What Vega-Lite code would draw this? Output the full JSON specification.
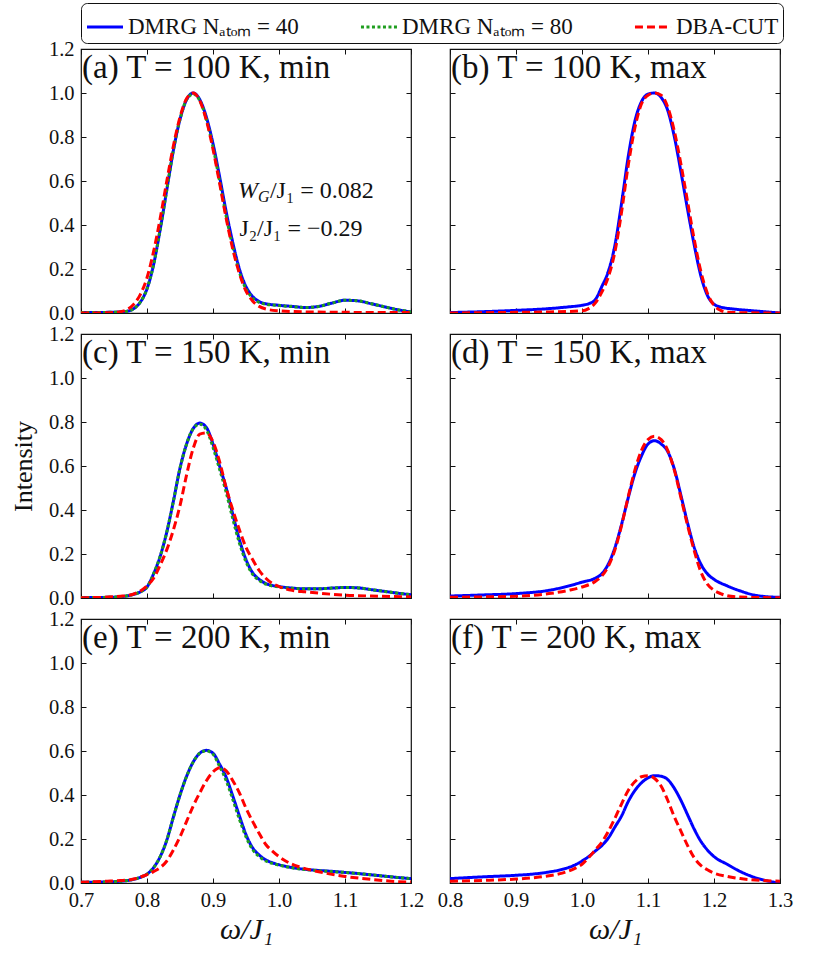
{
  "$schema": "https://vega.github.io/schema/vega-lite/v6.json",
  "background": "white",
  "padding": {"left": 9, "top": 2, "right": 5, "bottom": 5},
  "datasets": {
    "curves": [
      {"p":"a","s":"D40","x":0.70,"y":0.002},{"p":"a","s":"D40","x":0.72,"y":0.002},{"p":"a","s":"D40","x":0.74,"y":0.003},{"p":"a","s":"D40","x":0.76,"y":0.005},{"p":"a","s":"D40","x":0.77,"y":0.008},{"p":"a","s":"D40","x":0.78,"y":0.02},{"p":"a","s":"D40","x":0.79,"y":0.05},{"p":"a","s":"D40","x":0.80,"y":0.11},{"p":"a","s":"D40","x":0.81,"y":0.22},{"p":"a","s":"D40","x":0.82,"y":0.38},{"p":"a","s":"D40","x":0.83,"y":0.56},{"p":"a","s":"D40","x":0.84,"y":0.74},{"p":"a","s":"D40","x":0.85,"y":0.88},{"p":"a","s":"D40","x":0.86,"y":0.97},{"p":"a","s":"D40","x":0.87,"y":1.0},{"p":"a","s":"D40","x":0.88,"y":0.97},{"p":"a","s":"D40","x":0.89,"y":0.89},{"p":"a","s":"D40","x":0.90,"y":0.77},{"p":"a","s":"D40","x":0.91,"y":0.62},{"p":"a","s":"D40","x":0.92,"y":0.46},{"p":"a","s":"D40","x":0.93,"y":0.32},{"p":"a","s":"D40","x":0.94,"y":0.2},{"p":"a","s":"D40","x":0.95,"y":0.12},{"p":"a","s":"D40","x":0.96,"y":0.075},{"p":"a","s":"D40","x":0.97,"y":0.052},{"p":"a","s":"D40","x":0.98,"y":0.042},{"p":"a","s":"D40","x":1.00,"y":0.035},{"p":"a","s":"D40","x":1.02,"y":0.03},{"p":"a","s":"D40","x":1.04,"y":0.025},{"p":"a","s":"D40","x":1.06,"y":0.03},{"p":"a","s":"D40","x":1.08,"y":0.045},{"p":"a","s":"D40","x":1.10,"y":0.058},{"p":"a","s":"D40","x":1.12,"y":0.055},{"p":"a","s":"D40","x":1.14,"y":0.042},{"p":"a","s":"D40","x":1.16,"y":0.028},{"p":"a","s":"D40","x":1.18,"y":0.015},{"p":"a","s":"D40","x":1.20,"y":0.005},
      {"p":"a","s":"D80","x":0.70,"y":0.002},{"p":"a","s":"D80","x":0.72,"y":0.002},{"p":"a","s":"D80","x":0.74,"y":0.003},{"p":"a","s":"D80","x":0.76,"y":0.005},{"p":"a","s":"D80","x":0.77,"y":0.008},{"p":"a","s":"D80","x":0.78,"y":0.02},{"p":"a","s":"D80","x":0.79,"y":0.05},{"p":"a","s":"D80","x":0.80,"y":0.11},{"p":"a","s":"D80","x":0.81,"y":0.22},{"p":"a","s":"D80","x":0.82,"y":0.38},{"p":"a","s":"D80","x":0.83,"y":0.56},{"p":"a","s":"D80","x":0.84,"y":0.74},{"p":"a","s":"D80","x":0.85,"y":0.88},{"p":"a","s":"D80","x":0.86,"y":0.97},{"p":"a","s":"D80","x":0.87,"y":0.995},{"p":"a","s":"D80","x":0.88,"y":0.965},{"p":"a","s":"D80","x":0.89,"y":0.88},{"p":"a","s":"D80","x":0.90,"y":0.755},{"p":"a","s":"D80","x":0.91,"y":0.6},{"p":"a","s":"D80","x":0.92,"y":0.44},{"p":"a","s":"D80","x":0.93,"y":0.3},{"p":"a","s":"D80","x":0.94,"y":0.185},{"p":"a","s":"D80","x":0.95,"y":0.11},{"p":"a","s":"D80","x":0.96,"y":0.068},{"p":"a","s":"D80","x":0.97,"y":0.048},{"p":"a","s":"D80","x":0.98,"y":0.04},{"p":"a","s":"D80","x":1.00,"y":0.034},{"p":"a","s":"D80","x":1.02,"y":0.029},{"p":"a","s":"D80","x":1.04,"y":0.025},{"p":"a","s":"D80","x":1.06,"y":0.03},{"p":"a","s":"D80","x":1.08,"y":0.045},{"p":"a","s":"D80","x":1.10,"y":0.058},{"p":"a","s":"D80","x":1.12,"y":0.055},{"p":"a","s":"D80","x":1.14,"y":0.042},{"p":"a","s":"D80","x":1.16,"y":0.028},{"p":"a","s":"D80","x":1.18,"y":0.015},{"p":"a","s":"D80","x":1.20,"y":0.005},
      {"p":"a","s":"CUT","x":0.70,"y":0.0},{"p":"a","s":"CUT","x":0.72,"y":0.0},{"p":"a","s":"CUT","x":0.74,"y":0.001},{"p":"a","s":"CUT","x":0.75,"y":0.003},{"p":"a","s":"CUT","x":0.76,"y":0.006},{"p":"a","s":"CUT","x":0.77,"y":0.016},{"p":"a","s":"CUT","x":0.78,"y":0.04},{"p":"a","s":"CUT","x":0.79,"y":0.085},{"p":"a","s":"CUT","x":0.80,"y":0.16},{"p":"a","s":"CUT","x":0.81,"y":0.28},{"p":"a","s":"CUT","x":0.82,"y":0.43},{"p":"a","s":"CUT","x":0.83,"y":0.6},{"p":"a","s":"CUT","x":0.84,"y":0.76},{"p":"a","s":"CUT","x":0.85,"y":0.89},{"p":"a","s":"CUT","x":0.86,"y":0.975},{"p":"a","s":"CUT","x":0.87,"y":1.0},{"p":"a","s":"CUT","x":0.88,"y":0.965},{"p":"a","s":"CUT","x":0.89,"y":0.875},{"p":"a","s":"CUT","x":0.90,"y":0.745},{"p":"a","s":"CUT","x":0.91,"y":0.59},{"p":"a","s":"CUT","x":0.92,"y":0.43},{"p":"a","s":"CUT","x":0.93,"y":0.29},{"p":"a","s":"CUT","x":0.94,"y":0.18},{"p":"a","s":"CUT","x":0.95,"y":0.1},{"p":"a","s":"CUT","x":0.96,"y":0.055},{"p":"a","s":"CUT","x":0.97,"y":0.03},{"p":"a","s":"CUT","x":0.98,"y":0.018},{"p":"a","s":"CUT","x":1.00,"y":0.01},{"p":"a","s":"CUT","x":1.04,"y":0.005},{"p":"a","s":"CUT","x":1.10,"y":0.003},{"p":"a","s":"CUT","x":1.20,"y":0.002},
      {"p":"b","s":"D40","x":0.80,"y":0.002},{"p":"b","s":"D40","x":0.85,"y":0.006},{"p":"b","s":"D40","x":0.90,"y":0.012},{"p":"b","s":"D40","x":0.95,"y":0.02},{"p":"b","s":"D40","x":0.98,"y":0.028},{"p":"b","s":"D40","x":1.00,"y":0.035},{"p":"b","s":"D40","x":1.01,"y":0.042},{"p":"b","s":"D40","x":1.02,"y":0.06},{"p":"b","s":"D40","x":1.03,"y":0.12},{"p":"b","s":"D40","x":1.04,"y":0.19},{"p":"b","s":"D40","x":1.05,"y":0.31},{"p":"b","s":"D40","x":1.06,"y":0.5},{"p":"b","s":"D40","x":1.07,"y":0.71},{"p":"b","s":"D40","x":1.08,"y":0.87},{"p":"b","s":"D40","x":1.09,"y":0.96},{"p":"b","s":"D40","x":1.10,"y":0.995},{"p":"b","s":"D40","x":1.11,"y":1.0},{"p":"b","s":"D40","x":1.12,"y":0.98},{"p":"b","s":"D40","x":1.13,"y":0.92},{"p":"b","s":"D40","x":1.14,"y":0.8},{"p":"b","s":"D40","x":1.15,"y":0.64},{"p":"b","s":"D40","x":1.16,"y":0.47},{"p":"b","s":"D40","x":1.17,"y":0.31},{"p":"b","s":"D40","x":1.18,"y":0.17},{"p":"b","s":"D40","x":1.19,"y":0.08},{"p":"b","s":"D40","x":1.20,"y":0.04},{"p":"b","s":"D40","x":1.21,"y":0.027},{"p":"b","s":"D40","x":1.23,"y":0.018},{"p":"b","s":"D40","x":1.26,"y":0.01},{"p":"b","s":"D40","x":1.30,"y":0.0},
      {"p":"b","s":"CUT","x":0.80,"y":0.0},{"p":"b","s":"CUT","x":0.90,"y":0.003},{"p":"b","s":"CUT","x":0.95,"y":0.005},{"p":"b","s":"CUT","x":1.00,"y":0.01},{"p":"b","s":"CUT","x":1.01,"y":0.02},{"p":"b","s":"CUT","x":1.02,"y":0.045},{"p":"b","s":"CUT","x":1.03,"y":0.095},{"p":"b","s":"CUT","x":1.04,"y":0.165},{"p":"b","s":"CUT","x":1.05,"y":0.28},{"p":"b","s":"CUT","x":1.06,"y":0.46},{"p":"b","s":"CUT","x":1.07,"y":0.67},{"p":"b","s":"CUT","x":1.08,"y":0.84},{"p":"b","s":"CUT","x":1.09,"y":0.95},{"p":"b","s":"CUT","x":1.10,"y":0.99},{"p":"b","s":"CUT","x":1.11,"y":1.0},{"p":"b","s":"CUT","x":1.12,"y":0.99},{"p":"b","s":"CUT","x":1.13,"y":0.935},{"p":"b","s":"CUT","x":1.14,"y":0.825},{"p":"b","s":"CUT","x":1.15,"y":0.675},{"p":"b","s":"CUT","x":1.16,"y":0.505},{"p":"b","s":"CUT","x":1.17,"y":0.335},{"p":"b","s":"CUT","x":1.18,"y":0.19},{"p":"b","s":"CUT","x":1.19,"y":0.09},{"p":"b","s":"CUT","x":1.20,"y":0.035},{"p":"b","s":"CUT","x":1.21,"y":0.012},{"p":"b","s":"CUT","x":1.22,"y":0.004},{"p":"b","s":"CUT","x":1.25,"y":0.001},{"p":"b","s":"CUT","x":1.30,"y":0.0},
      {"p":"c","s":"D40","x":0.70,"y":0.002},{"p":"c","s":"D40","x":0.74,"y":0.003},{"p":"c","s":"D40","x":0.76,"y":0.006},{"p":"c","s":"D40","x":0.77,"y":0.01},{"p":"c","s":"D40","x":0.78,"y":0.017},{"p":"c","s":"D40","x":0.79,"y":0.028},{"p":"c","s":"D40","x":0.80,"y":0.05},{"p":"c","s":"D40","x":0.81,"y":0.11},{"p":"c","s":"D40","x":0.82,"y":0.19},{"p":"c","s":"D40","x":0.83,"y":0.3},{"p":"c","s":"D40","x":0.84,"y":0.44},{"p":"c","s":"D40","x":0.85,"y":0.59},{"p":"c","s":"D40","x":0.86,"y":0.7},{"p":"c","s":"D40","x":0.87,"y":0.77},{"p":"c","s":"D40","x":0.88,"y":0.795},{"p":"c","s":"D40","x":0.89,"y":0.775},{"p":"c","s":"D40","x":0.90,"y":0.7},{"p":"c","s":"D40","x":0.91,"y":0.6},{"p":"c","s":"D40","x":0.92,"y":0.5},{"p":"c","s":"D40","x":0.93,"y":0.38},{"p":"c","s":"D40","x":0.94,"y":0.265},{"p":"c","s":"D40","x":0.95,"y":0.175},{"p":"c","s":"D40","x":0.96,"y":0.115},{"p":"c","s":"D40","x":0.97,"y":0.085},{"p":"c","s":"D40","x":0.98,"y":0.066},{"p":"c","s":"D40","x":1.00,"y":0.052},{"p":"c","s":"D40","x":1.02,"y":0.045},{"p":"c","s":"D40","x":1.04,"y":0.042},{"p":"c","s":"D40","x":1.06,"y":0.042},{"p":"c","s":"D40","x":1.08,"y":0.045},{"p":"c","s":"D40","x":1.10,"y":0.048},{"p":"c","s":"D40","x":1.12,"y":0.046},{"p":"c","s":"D40","x":1.14,"y":0.038},{"p":"c","s":"D40","x":1.16,"y":0.03},{"p":"c","s":"D40","x":1.18,"y":0.022},{"p":"c","s":"D40","x":1.20,"y":0.015},
      {"p":"c","s":"D80","x":0.70,"y":0.002},{"p":"c","s":"D80","x":0.74,"y":0.003},{"p":"c","s":"D80","x":0.76,"y":0.006},{"p":"c","s":"D80","x":0.77,"y":0.01},{"p":"c","s":"D80","x":0.78,"y":0.017},{"p":"c","s":"D80","x":0.79,"y":0.028},{"p":"c","s":"D80","x":0.80,"y":0.05},{"p":"c","s":"D80","x":0.81,"y":0.11},{"p":"c","s":"D80","x":0.82,"y":0.19},{"p":"c","s":"D80","x":0.83,"y":0.3},{"p":"c","s":"D80","x":0.84,"y":0.44},{"p":"c","s":"D80","x":0.85,"y":0.59},{"p":"c","s":"D80","x":0.86,"y":0.7},{"p":"c","s":"D80","x":0.87,"y":0.77},{"p":"c","s":"D80","x":0.88,"y":0.79},{"p":"c","s":"D80","x":0.89,"y":0.765},{"p":"c","s":"D80","x":0.90,"y":0.685},{"p":"c","s":"D80","x":0.91,"y":0.585},{"p":"c","s":"D80","x":0.92,"y":0.48},{"p":"c","s":"D80","x":0.93,"y":0.36},{"p":"c","s":"D80","x":0.94,"y":0.25},{"p":"c","s":"D80","x":0.95,"y":0.165},{"p":"c","s":"D80","x":0.96,"y":0.108},{"p":"c","s":"D80","x":0.97,"y":0.08},{"p":"c","s":"D80","x":0.98,"y":0.063},{"p":"c","s":"D80","x":1.00,"y":0.05},{"p":"c","s":"D80","x":1.02,"y":0.044},{"p":"c","s":"D80","x":1.04,"y":0.042},{"p":"c","s":"D80","x":1.06,"y":0.042},{"p":"c","s":"D80","x":1.08,"y":0.045},{"p":"c","s":"D80","x":1.10,"y":0.048},{"p":"c","s":"D80","x":1.12,"y":0.046},{"p":"c","s":"D80","x":1.14,"y":0.038},{"p":"c","s":"D80","x":1.16,"y":0.03},{"p":"c","s":"D80","x":1.18,"y":0.022},{"p":"c","s":"D80","x":1.20,"y":0.015},
      {"p":"c","s":"CUT","x":0.70,"y":0.001},{"p":"c","s":"CUT","x":0.74,"y":0.004},{"p":"c","s":"CUT","x":0.76,"y":0.008},{"p":"c","s":"CUT","x":0.77,"y":0.011},{"p":"c","s":"CUT","x":0.78,"y":0.018},{"p":"c","s":"CUT","x":0.79,"y":0.032},{"p":"c","s":"CUT","x":0.80,"y":0.055},{"p":"c","s":"CUT","x":0.81,"y":0.09},{"p":"c","s":"CUT","x":0.82,"y":0.15},{"p":"c","s":"CUT","x":0.83,"y":0.22},{"p":"c","s":"CUT","x":0.84,"y":0.31},{"p":"c","s":"CUT","x":0.85,"y":0.42},{"p":"c","s":"CUT","x":0.86,"y":0.56},{"p":"c","s":"CUT","x":0.87,"y":0.68},{"p":"c","s":"CUT","x":0.88,"y":0.745},{"p":"c","s":"CUT","x":0.89,"y":0.75},{"p":"c","s":"CUT","x":0.90,"y":0.71},{"p":"c","s":"CUT","x":0.91,"y":0.62},{"p":"c","s":"CUT","x":0.92,"y":0.5},{"p":"c","s":"CUT","x":0.93,"y":0.4},{"p":"c","s":"CUT","x":0.94,"y":0.31},{"p":"c","s":"CUT","x":0.95,"y":0.23},{"p":"c","s":"CUT","x":0.96,"y":0.175},{"p":"c","s":"CUT","x":0.97,"y":0.125},{"p":"c","s":"CUT","x":0.98,"y":0.09},{"p":"c","s":"CUT","x":0.99,"y":0.066},{"p":"c","s":"CUT","x":1.00,"y":0.052},{"p":"c","s":"CUT","x":1.02,"y":0.035},{"p":"c","s":"CUT","x":1.04,"y":0.028},{"p":"c","s":"CUT","x":1.06,"y":0.022},{"p":"c","s":"CUT","x":1.08,"y":0.017},{"p":"c","s":"CUT","x":1.10,"y":0.013},{"p":"c","s":"CUT","x":1.14,"y":0.009},{"p":"c","s":"CUT","x":1.20,"y":0.005},
      {"p":"d","s":"D40","x":0.80,"y":0.009},{"p":"d","s":"D40","x":0.85,"y":0.014},{"p":"d","s":"D40","x":0.90,"y":0.02},{"p":"d","s":"D40","x":0.95,"y":0.035},{"p":"d","s":"D40","x":0.98,"y":0.055},{"p":"d","s":"D40","x":1.00,"y":0.072},{"p":"d","s":"D40","x":1.02,"y":0.09},{"p":"d","s":"D40","x":1.03,"y":0.11},{"p":"d","s":"D40","x":1.04,"y":0.155},{"p":"d","s":"D40","x":1.05,"y":0.23},{"p":"d","s":"D40","x":1.06,"y":0.335},{"p":"d","s":"D40","x":1.07,"y":0.455},{"p":"d","s":"D40","x":1.08,"y":0.565},{"p":"d","s":"D40","x":1.09,"y":0.645},{"p":"d","s":"D40","x":1.10,"y":0.7},{"p":"d","s":"D40","x":1.11,"y":0.715},{"p":"d","s":"D40","x":1.12,"y":0.7},{"p":"d","s":"D40","x":1.13,"y":0.665},{"p":"d","s":"D40","x":1.14,"y":0.585},{"p":"d","s":"D40","x":1.15,"y":0.465},{"p":"d","s":"D40","x":1.16,"y":0.34},{"p":"d","s":"D40","x":1.17,"y":0.23},{"p":"d","s":"D40","x":1.18,"y":0.155},{"p":"d","s":"D40","x":1.19,"y":0.11},{"p":"d","s":"D40","x":1.20,"y":0.085},{"p":"d","s":"D40","x":1.22,"y":0.055},{"p":"d","s":"D40","x":1.24,"y":0.032},{"p":"d","s":"D40","x":1.26,"y":0.014},{"p":"d","s":"D40","x":1.28,"y":0.006},{"p":"d","s":"D40","x":1.30,"y":0.003},
      {"p":"d","s":"CUT","x":0.80,"y":0.003},{"p":"d","s":"CUT","x":0.85,"y":0.005},{"p":"d","s":"CUT","x":0.90,"y":0.008},{"p":"d","s":"CUT","x":0.95,"y":0.02},{"p":"d","s":"CUT","x":0.98,"y":0.035},{"p":"d","s":"CUT","x":1.00,"y":0.05},{"p":"d","s":"CUT","x":1.02,"y":0.075},{"p":"d","s":"CUT","x":1.03,"y":0.1},{"p":"d","s":"CUT","x":1.04,"y":0.145},{"p":"d","s":"CUT","x":1.05,"y":0.22},{"p":"d","s":"CUT","x":1.06,"y":0.33},{"p":"d","s":"CUT","x":1.07,"y":0.46},{"p":"d","s":"CUT","x":1.08,"y":0.58},{"p":"d","s":"CUT","x":1.09,"y":0.67},{"p":"d","s":"CUT","x":1.10,"y":0.72},{"p":"d","s":"CUT","x":1.11,"y":0.735},{"p":"d","s":"CUT","x":1.12,"y":0.72},{"p":"d","s":"CUT","x":1.13,"y":0.67},{"p":"d","s":"CUT","x":1.14,"y":0.58},{"p":"d","s":"CUT","x":1.15,"y":0.455},{"p":"d","s":"CUT","x":1.16,"y":0.33},{"p":"d","s":"CUT","x":1.17,"y":0.215},{"p":"d","s":"CUT","x":1.18,"y":0.12},{"p":"d","s":"CUT","x":1.19,"y":0.063},{"p":"d","s":"CUT","x":1.20,"y":0.035},{"p":"d","s":"CUT","x":1.21,"y":0.02},{"p":"d","s":"CUT","x":1.22,"y":0.01},{"p":"d","s":"CUT","x":1.24,"y":0.004},{"p":"d","s":"CUT","x":1.30,"y":0.001},
      {"p":"e","s":"D40","x":0.70,"y":0.003},{"p":"e","s":"D40","x":0.74,"y":0.005},{"p":"e","s":"D40","x":0.76,"y":0.008},{"p":"e","s":"D40","x":0.77,"y":0.011},{"p":"e","s":"D40","x":0.78,"y":0.017},{"p":"e","s":"D40","x":0.79,"y":0.026},{"p":"e","s":"D40","x":0.80,"y":0.04},{"p":"e","s":"D40","x":0.81,"y":0.07},{"p":"e","s":"D40","x":0.82,"y":0.12},{"p":"e","s":"D40","x":0.83,"y":0.195},{"p":"e","s":"D40","x":0.84,"y":0.3},{"p":"e","s":"D40","x":0.85,"y":0.4},{"p":"e","s":"D40","x":0.86,"y":0.485},{"p":"e","s":"D40","x":0.87,"y":0.55},{"p":"e","s":"D40","x":0.88,"y":0.59},{"p":"e","s":"D40","x":0.89,"y":0.603},{"p":"e","s":"D40","x":0.90,"y":0.59},{"p":"e","s":"D40","x":0.91,"y":0.54},{"p":"e","s":"D40","x":0.92,"y":0.48},{"p":"e","s":"D40","x":0.93,"y":0.395},{"p":"e","s":"D40","x":0.94,"y":0.305},{"p":"e","s":"D40","x":0.95,"y":0.22},{"p":"e","s":"D40","x":0.96,"y":0.16},{"p":"e","s":"D40","x":0.97,"y":0.127},{"p":"e","s":"D40","x":0.98,"y":0.105},{"p":"e","s":"D40","x":0.99,"y":0.092},{"p":"e","s":"D40","x":1.00,"y":0.083},{"p":"e","s":"D40","x":1.02,"y":0.07},{"p":"e","s":"D40","x":1.04,"y":0.062},{"p":"e","s":"D40","x":1.06,"y":0.057},{"p":"e","s":"D40","x":1.08,"y":0.053},{"p":"e","s":"D40","x":1.10,"y":0.048},{"p":"e","s":"D40","x":1.12,"y":0.043},{"p":"e","s":"D40","x":1.14,"y":0.037},{"p":"e","s":"D40","x":1.16,"y":0.031},{"p":"e","s":"D40","x":1.18,"y":0.025},{"p":"e","s":"D40","x":1.20,"y":0.02},
      {"p":"e","s":"D80","x":0.70,"y":0.003},{"p":"e","s":"D80","x":0.74,"y":0.005},{"p":"e","s":"D80","x":0.76,"y":0.008},{"p":"e","s":"D80","x":0.77,"y":0.011},{"p":"e","s":"D80","x":0.78,"y":0.017},{"p":"e","s":"D80","x":0.79,"y":0.026},{"p":"e","s":"D80","x":0.80,"y":0.04},{"p":"e","s":"D80","x":0.81,"y":0.07},{"p":"e","s":"D80","x":0.82,"y":0.12},{"p":"e","s":"D80","x":0.83,"y":0.195},{"p":"e","s":"D80","x":0.84,"y":0.3},{"p":"e","s":"D80","x":0.85,"y":0.4},{"p":"e","s":"D80","x":0.86,"y":0.485},{"p":"e","s":"D80","x":0.87,"y":0.55},{"p":"e","s":"D80","x":0.88,"y":0.59},{"p":"e","s":"D80","x":0.89,"y":0.6},{"p":"e","s":"D80","x":0.90,"y":0.585},{"p":"e","s":"D80","x":0.91,"y":0.53},{"p":"e","s":"D80","x":0.92,"y":0.465},{"p":"e","s":"D80","x":0.93,"y":0.38},{"p":"e","s":"D80","x":0.94,"y":0.29},{"p":"e","s":"D80","x":0.95,"y":0.21},{"p":"e","s":"D80","x":0.96,"y":0.152},{"p":"e","s":"D80","x":0.97,"y":0.12},{"p":"e","s":"D80","x":0.98,"y":0.1},{"p":"e","s":"D80","x":0.99,"y":0.089},{"p":"e","s":"D80","x":1.00,"y":0.081},{"p":"e","s":"D80","x":1.02,"y":0.069},{"p":"e","s":"D80","x":1.04,"y":0.061},{"p":"e","s":"D80","x":1.06,"y":0.056},{"p":"e","s":"D80","x":1.08,"y":0.052},{"p":"e","s":"D80","x":1.10,"y":0.048},{"p":"e","s":"D80","x":1.12,"y":0.043},{"p":"e","s":"D80","x":1.14,"y":0.037},{"p":"e","s":"D80","x":1.16,"y":0.031},{"p":"e","s":"D80","x":1.18,"y":0.025},{"p":"e","s":"D80","x":1.20,"y":0.02},
      {"p":"e","s":"CUT","x":0.70,"y":0.003},{"p":"e","s":"CUT","x":0.74,"y":0.008},{"p":"e","s":"CUT","x":0.76,"y":0.011},{"p":"e","s":"CUT","x":0.77,"y":0.013},{"p":"e","s":"CUT","x":0.78,"y":0.018},{"p":"e","s":"CUT","x":0.79,"y":0.027},{"p":"e","s":"CUT","x":0.80,"y":0.038},{"p":"e","s":"CUT","x":0.81,"y":0.052},{"p":"e","s":"CUT","x":0.82,"y":0.07},{"p":"e","s":"CUT","x":0.83,"y":0.1},{"p":"e","s":"CUT","x":0.84,"y":0.15},{"p":"e","s":"CUT","x":0.85,"y":0.21},{"p":"e","s":"CUT","x":0.86,"y":0.28},{"p":"e","s":"CUT","x":0.87,"y":0.35},{"p":"e","s":"CUT","x":0.88,"y":0.41},{"p":"e","s":"CUT","x":0.89,"y":0.465},{"p":"e","s":"CUT","x":0.90,"y":0.505},{"p":"e","s":"CUT","x":0.91,"y":0.524},{"p":"e","s":"CUT","x":0.92,"y":0.51},{"p":"e","s":"CUT","x":0.93,"y":0.465},{"p":"e","s":"CUT","x":0.94,"y":0.41},{"p":"e","s":"CUT","x":0.95,"y":0.34},{"p":"e","s":"CUT","x":0.96,"y":0.28},{"p":"e","s":"CUT","x":0.97,"y":0.225},{"p":"e","s":"CUT","x":0.98,"y":0.175},{"p":"e","s":"CUT","x":0.99,"y":0.145},{"p":"e","s":"CUT","x":1.00,"y":0.12},{"p":"e","s":"CUT","x":1.01,"y":0.1},{"p":"e","s":"CUT","x":1.03,"y":0.074},{"p":"e","s":"CUT","x":1.05,"y":0.058},{"p":"e","s":"CUT","x":1.07,"y":0.045},{"p":"e","s":"CUT","x":1.10,"y":0.03},{"p":"e","s":"CUT","x":1.14,"y":0.016},{"p":"e","s":"CUT","x":1.17,"y":0.008},{"p":"e","s":"CUT","x":1.20,"y":0.004},
      {"p":"f","s":"D40","x":0.80,"y":0.02},{"p":"f","s":"D40","x":0.85,"y":0.028},{"p":"f","s":"D40","x":0.90,"y":0.035},{"p":"f","s":"D40","x":0.93,"y":0.042},{"p":"f","s":"D40","x":0.95,"y":0.05},{"p":"f","s":"D40","x":0.97,"y":0.062},{"p":"f","s":"D40","x":0.99,"y":0.083},{"p":"f","s":"D40","x":1.00,"y":0.1},{"p":"f","s":"D40","x":1.01,"y":0.12},{"p":"f","s":"D40","x":1.02,"y":0.145},{"p":"f","s":"D40","x":1.03,"y":0.17},{"p":"f","s":"D40","x":1.04,"y":0.205},{"p":"f","s":"D40","x":1.05,"y":0.255},{"p":"f","s":"D40","x":1.06,"y":0.305},{"p":"f","s":"D40","x":1.07,"y":0.37},{"p":"f","s":"D40","x":1.08,"y":0.42},{"p":"f","s":"D40","x":1.09,"y":0.455},{"p":"f","s":"D40","x":1.10,"y":0.478},{"p":"f","s":"D40","x":1.11,"y":0.488},{"p":"f","s":"D40","x":1.12,"y":0.485},{"p":"f","s":"D40","x":1.13,"y":0.47},{"p":"f","s":"D40","x":1.14,"y":0.43},{"p":"f","s":"D40","x":1.15,"y":0.375},{"p":"f","s":"D40","x":1.16,"y":0.31},{"p":"f","s":"D40","x":1.17,"y":0.245},{"p":"f","s":"D40","x":1.18,"y":0.19},{"p":"f","s":"D40","x":1.19,"y":0.15},{"p":"f","s":"D40","x":1.20,"y":0.12},{"p":"f","s":"D40","x":1.22,"y":0.085},{"p":"f","s":"D40","x":1.24,"y":0.052},{"p":"f","s":"D40","x":1.26,"y":0.027},{"p":"f","s":"D40","x":1.28,"y":0.01},{"p":"f","s":"D40","x":1.30,"y":0.0},
      {"p":"f","s":"CUT","x":0.80,"y":0.008},{"p":"f","s":"CUT","x":0.85,"y":0.012},{"p":"f","s":"CUT","x":0.90,"y":0.018},{"p":"f","s":"CUT","x":0.93,"y":0.025},{"p":"f","s":"CUT","x":0.95,"y":0.033},{"p":"f","s":"CUT","x":0.97,"y":0.045},{"p":"f","s":"CUT","x":0.99,"y":0.068},{"p":"f","s":"CUT","x":1.00,"y":0.085},{"p":"f","s":"CUT","x":1.01,"y":0.115},{"p":"f","s":"CUT","x":1.02,"y":0.15},{"p":"f","s":"CUT","x":1.03,"y":0.185},{"p":"f","s":"CUT","x":1.04,"y":0.235},{"p":"f","s":"CUT","x":1.05,"y":0.295},{"p":"f","s":"CUT","x":1.06,"y":0.36},{"p":"f","s":"CUT","x":1.07,"y":0.42},{"p":"f","s":"CUT","x":1.08,"y":0.46},{"p":"f","s":"CUT","x":1.09,"y":0.483},{"p":"f","s":"CUT","x":1.10,"y":0.487},{"p":"f","s":"CUT","x":1.11,"y":0.475},{"p":"f","s":"CUT","x":1.12,"y":0.44},{"p":"f","s":"CUT","x":1.13,"y":0.375},{"p":"f","s":"CUT","x":1.14,"y":0.3},{"p":"f","s":"CUT","x":1.15,"y":0.235},{"p":"f","s":"CUT","x":1.16,"y":0.17},{"p":"f","s":"CUT","x":1.17,"y":0.115},{"p":"f","s":"CUT","x":1.18,"y":0.08},{"p":"f","s":"CUT","x":1.19,"y":0.06},{"p":"f","s":"CUT","x":1.20,"y":0.045},{"p":"f","s":"CUT","x":1.22,"y":0.03},{"p":"f","s":"CUT","x":1.24,"y":0.02},{"p":"f","s":"CUT","x":1.27,"y":0.012},{"p":"f","s":"CUT","x":1.30,"y":0.008}
    ]
  },
  "columns": 2,
  "spacing": {"row": 21, "column": 39},
  "bounds": "flush",
  "concat": [
    {
      "width": 330, "height": 264,
      "layer": [
        {
          "data": {"name": "curves"},
          "transform": [{"filter": "datum.p == 'a'"}],
          "mark": {"type": "line", "strokeWidth": 3, "interpolate": "monotone", "clip": true},
          "encoding": {
            "x": {"field": "x", "type": "quantitative", "scale": {"domain": [0.7, 1.2], "nice": false, "zero": false}, "axis": {"values": [0.7, 0.8, 0.9, 1.0, 1.1, 1.2], "labels": false, "title": null}},
            "y": {"field": "y", "type": "quantitative", "scale": {"domain": [0, 1.2], "nice": false}, "axis": {"values": [0, 0.2, 0.4, 0.6, 0.8, 1.0, 1.2], "format": ".1f", "title": null}},
            "color": {"field": "s", "type": "nominal", "scale": {"domain": ["D40", "D80", "CUT"], "range": ["#0000ff", "#1f9e1f", "#ff0000"]}, "legend": {"title": null, "orient": "none", "legendX": 0, "legendY": -46, "direction": "horizontal", "labelExpr": "datum.value == 'D40' ? 'DMRG Nₐₜₒₘ = 40' : datum.value == 'D80' ? 'DMRG Nₐₜₒₘ = 80' : 'DBA-CUT'"}},
            "strokeDash": {"field": "s", "type": "nominal", "scale": {"domain": ["D40", "D80", "CUT"], "range": [[1, 0], [3, 2.5], [8, 4]]}, "legend": {"title": null, "orient": "none", "legendX": 0, "legendY": -46, "direction": "horizontal", "labelExpr": "datum.value == 'D40' ? 'DMRG Nₐₜₒₘ = 40' : datum.value == 'D80' ? 'DMRG Nₐₜₒₘ = 80' : 'DBA-CUT'"}}
          }
        },
        {
          "data": {"values": [{"t": "(a) T = 100 K, min"}]},
          "mark": {"type": "text", "align": "left", "baseline": "top", "fontSize": 33, "dx": 1, "dy": 3},
          "encoding": {
            "x": {"datum": 0.7, "type": "quantitative", "scale": {"domain": [0.7, 1.2], "nice": false, "zero": false}, "axis": {"orient": "top", "labels": false, "values": [0.7, 0.8, 0.9, 1.0, 1.1, 1.2], "title": null}},
            "y": {"datum": 1.2, "type": "quantitative", "scale": {"domain": [0, 1.2], "nice": false}, "axis": {"orient": "right", "labels": false, "values": [0, 0.2, 0.4, 0.6, 0.8, 1.0, 1.2], "title": null}},
            "text": {"field": "t"}
          }
        },
        {
          "data": {"values": [{"t": "W"}]},
          "mark": {"type": "text", "align": "right", "baseline": "alphabetic", "fontSize": 24, "fontStyle": "italic"},
          "encoding": {
            "x": {"datum": 0.968, "type": "quantitative", "axis": null},
            "y": {"datum": 0.524, "type": "quantitative", "axis": null},
            "text": {"field": "t"}
          }
        },
        {
          "data": {"values": [{"t": "G"}]},
          "mark": {"type": "text", "align": "left", "baseline": "alphabetic", "fontSize": 16, "fontStyle": "italic", "dy": 4},
          "encoding": {
            "x": {"datum": 0.968, "type": "quantitative", "axis": null},
            "y": {"datum": 0.524, "type": "quantitative", "axis": null},
            "text": {"field": "t"}
          }
        },
        {
          "data": {"values": [{"t": "/J₁ = 0.082"}]},
          "mark": {"type": "text", "align": "left", "baseline": "alphabetic", "fontSize": 24, "dx": 12},
          "encoding": {
            "x": {"datum": 0.968, "type": "quantitative", "axis": null},
            "y": {"datum": 0.524, "type": "quantitative", "axis": null},
            "text": {"field": "t"}
          }
        },
        {
          "data": {"values": [{"t": "J₂/J₁ = −0.29"}]},
          "mark": {"type": "text", "align": "left", "baseline": "alphabetic", "fontSize": 24},
          "encoding": {
            "x": {"datum": 0.94, "type": "quantitative", "axis": null},
            "y": {"datum": 0.35, "type": "quantitative", "axis": null},
            "text": {"field": "t"}
          }
        }
      ],
      "resolve": {"axis": {"x": "independent", "y": "independent"}}
    },
    {
      "width": 330, "height": 264,
      "layer": [
        {
          "data": {"name": "curves"},
          "transform": [{"filter": "datum.p == 'b'"}],
          "mark": {"type": "line", "strokeWidth": 3, "interpolate": "monotone", "clip": true},
          "encoding": {
            "x": {"field": "x", "type": "quantitative", "scale": {"domain": [0.8, 1.3], "nice": false, "zero": false}, "axis": {"values": [0.8, 0.9, 1.0, 1.1, 1.2, 1.3], "labels": false, "title": null}},
            "y": {"field": "y", "type": "quantitative", "scale": {"domain": [0, 1.2], "nice": false}, "axis": {"values": [0, 0.2, 0.4, 0.6, 0.8, 1.0, 1.2], "labels": false, "title": null}},
            "color": {"field": "s", "type": "nominal", "scale": {"domain": ["D40", "D80", "CUT"], "range": ["#0000ff", "#1f9e1f", "#ff0000"]}, "legend": {"title": null, "orient": "none", "legendX": 0, "legendY": -46, "direction": "horizontal", "labelExpr": "datum.value == 'D40' ? 'DMRG Nₐₜₒₘ = 40' : datum.value == 'D80' ? 'DMRG Nₐₜₒₘ = 80' : 'DBA-CUT'"}},
            "strokeDash": {"field": "s", "type": "nominal", "scale": {"domain": ["D40", "D80", "CUT"], "range": [[1, 0], [3, 2.5], [8, 4]]}, "legend": {"title": null, "orient": "none", "legendX": 0, "legendY": -46, "direction": "horizontal", "labelExpr": "datum.value == 'D40' ? 'DMRG Nₐₜₒₘ = 40' : datum.value == 'D80' ? 'DMRG Nₐₜₒₘ = 80' : 'DBA-CUT'"}}
          }
        },
        {
          "data": {"values": [{"t": "(b) T = 100 K, max"}]},
          "mark": {"type": "text", "align": "left", "baseline": "top", "fontSize": 33, "dx": 1, "dy": 3},
          "encoding": {
            "x": {"datum": 0.8, "type": "quantitative", "scale": {"domain": [0.8, 1.3], "nice": false, "zero": false}, "axis": {"orient": "top", "labels": false, "values": [0.8, 0.9, 1.0, 1.1, 1.2, 1.3], "title": null}},
            "y": {"datum": 1.2, "type": "quantitative", "scale": {"domain": [0, 1.2], "nice": false}, "axis": {"orient": "right", "labels": false, "values": [0, 0.2, 0.4, 0.6, 0.8, 1.0, 1.2], "title": null}},
            "text": {"field": "t"}
          }
        }
      ],
      "resolve": {"axis": {"x": "independent", "y": "independent"}}
    },
    {
      "width": 330, "height": 264,
      "layer": [
        {
          "data": {"name": "curves"},
          "transform": [{"filter": "datum.p == 'c'"}],
          "mark": {"type": "line", "strokeWidth": 3, "interpolate": "monotone", "clip": true},
          "encoding": {
            "x": {"field": "x", "type": "quantitative", "scale": {"domain": [0.7, 1.2], "nice": false, "zero": false}, "axis": {"values": [0.7, 0.8, 0.9, 1.0, 1.1, 1.2], "labels": false, "title": null}},
            "y": {"field": "y", "type": "quantitative", "scale": {"domain": [0, 1.2], "nice": false}, "axis": {"values": [0, 0.2, 0.4, 0.6, 0.8, 1.0, 1.2], "format": ".1f", "title": "Intensity", "titleFontSize": 26, "titlePadding": 12}},
            "color": {"field": "s", "type": "nominal", "scale": {"domain": ["D40", "D80", "CUT"], "range": ["#0000ff", "#1f9e1f", "#ff0000"]}, "legend": {"title": null, "orient": "none", "legendX": 0, "legendY": -46, "direction": "horizontal", "labelExpr": "datum.value == 'D40' ? 'DMRG Nₐₜₒₘ = 40' : datum.value == 'D80' ? 'DMRG Nₐₜₒₘ = 80' : 'DBA-CUT'"}},
            "strokeDash": {"field": "s", "type": "nominal", "scale": {"domain": ["D40", "D80", "CUT"], "range": [[1, 0], [3, 2.5], [8, 4]]}, "legend": {"title": null, "orient": "none", "legendX": 0, "legendY": -46, "direction": "horizontal", "labelExpr": "datum.value == 'D40' ? 'DMRG Nₐₜₒₘ = 40' : datum.value == 'D80' ? 'DMRG Nₐₜₒₘ = 80' : 'DBA-CUT'"}}
          }
        },
        {
          "data": {"values": [{"t": "(c) T = 150 K, min"}]},
          "mark": {"type": "text", "align": "left", "baseline": "top", "fontSize": 33, "dx": 1, "dy": 3},
          "encoding": {
            "x": {"datum": 0.7, "type": "quantitative", "scale": {"domain": [0.7, 1.2], "nice": false, "zero": false}, "axis": {"orient": "top", "labels": false, "values": [0.7, 0.8, 0.9, 1.0, 1.1, 1.2], "title": null}},
            "y": {"datum": 1.2, "type": "quantitative", "scale": {"domain": [0, 1.2], "nice": false}, "axis": {"orient": "right", "labels": false, "values": [0, 0.2, 0.4, 0.6, 0.8, 1.0, 1.2], "title": null}},
            "text": {"field": "t"}
          }
        }
      ],
      "resolve": {"axis": {"x": "independent", "y": "independent"}}
    },
    {
      "width": 330, "height": 264,
      "layer": [
        {
          "data": {"name": "curves"},
          "transform": [{"filter": "datum.p == 'd'"}],
          "mark": {"type": "line", "strokeWidth": 3, "interpolate": "monotone", "clip": true},
          "encoding": {
            "x": {"field": "x", "type": "quantitative", "scale": {"domain": [0.8, 1.3], "nice": false, "zero": false}, "axis": {"values": [0.8, 0.9, 1.0, 1.1, 1.2, 1.3], "labels": false, "title": null}},
            "y": {"field": "y", "type": "quantitative", "scale": {"domain": [0, 1.2], "nice": false}, "axis": {"values": [0, 0.2, 0.4, 0.6, 0.8, 1.0, 1.2], "labels": false, "title": null}},
            "color": {"field": "s", "type": "nominal", "scale": {"domain": ["D40", "D80", "CUT"], "range": ["#0000ff", "#1f9e1f", "#ff0000"]}, "legend": {"title": null, "orient": "none", "legendX": 0, "legendY": -46, "direction": "horizontal", "labelExpr": "datum.value == 'D40' ? 'DMRG Nₐₜₒₘ = 40' : datum.value == 'D80' ? 'DMRG Nₐₜₒₘ = 80' : 'DBA-CUT'"}},
            "strokeDash": {"field": "s", "type": "nominal", "scale": {"domain": ["D40", "D80", "CUT"], "range": [[1, 0], [3, 2.5], [8, 4]]}, "legend": {"title": null, "orient": "none", "legendX": 0, "legendY": -46, "direction": "horizontal", "labelExpr": "datum.value == 'D40' ? 'DMRG Nₐₜₒₘ = 40' : datum.value == 'D80' ? 'DMRG Nₐₜₒₘ = 80' : 'DBA-CUT'"}}
          }
        },
        {
          "data": {"values": [{"t": "(d) T = 150 K, max"}]},
          "mark": {"type": "text", "align": "left", "baseline": "top", "fontSize": 33, "dx": 1, "dy": 3},
          "encoding": {
            "x": {"datum": 0.8, "type": "quantitative", "scale": {"domain": [0.8, 1.3], "nice": false, "zero": false}, "axis": {"orient": "top", "labels": false, "values": [0.8, 0.9, 1.0, 1.1, 1.2, 1.3], "title": null}},
            "y": {"datum": 1.2, "type": "quantitative", "scale": {"domain": [0, 1.2], "nice": false}, "axis": {"orient": "right", "labels": false, "values": [0, 0.2, 0.4, 0.6, 0.8, 1.0, 1.2], "title": null}},
            "text": {"field": "t"}
          }
        }
      ],
      "resolve": {"axis": {"x": "independent", "y": "independent"}}
    },
    {
      "width": 330, "height": 264,
      "layer": [
        {
          "data": {"name": "curves"},
          "transform": [{"filter": "datum.p == 'e'"}],
          "mark": {"type": "line", "strokeWidth": 3, "interpolate": "monotone", "clip": true},
          "encoding": {
            "x": {"field": "x", "type": "quantitative", "scale": {"domain": [0.7, 1.2], "nice": false, "zero": false}, "axis": {"values": [0.7, 0.8, 0.9, 1.0, 1.1, 1.2], "format": ".1f", "title": "ω/J₁", "titleFontSize": 30, "titleFontStyle": "italic", "titlePadding": 4}},
            "y": {"field": "y", "type": "quantitative", "scale": {"domain": [0, 1.2], "nice": false}, "axis": {"values": [0, 0.2, 0.4, 0.6, 0.8, 1.0, 1.2], "format": ".1f", "title": null}},
            "color": {"field": "s", "type": "nominal", "scale": {"domain": ["D40", "D80", "CUT"], "range": ["#0000ff", "#1f9e1f", "#ff0000"]}, "legend": {"title": null, "orient": "none", "legendX": 0, "legendY": -46, "direction": "horizontal", "labelExpr": "datum.value == 'D40' ? 'DMRG Nₐₜₒₘ = 40' : datum.value == 'D80' ? 'DMRG Nₐₜₒₘ = 80' : 'DBA-CUT'"}},
            "strokeDash": {"field": "s", "type": "nominal", "scale": {"domain": ["D40", "D80", "CUT"], "range": [[1, 0], [3, 2.5], [8, 4]]}, "legend": {"title": null, "orient": "none", "legendX": 0, "legendY": -46, "direction": "horizontal", "labelExpr": "datum.value == 'D40' ? 'DMRG Nₐₜₒₘ = 40' : datum.value == 'D80' ? 'DMRG Nₐₜₒₘ = 80' : 'DBA-CUT'"}}
          }
        },
        {
          "data": {"values": [{"t": "(e) T = 200 K, min"}]},
          "mark": {"type": "text", "align": "left", "baseline": "top", "fontSize": 33, "dx": 1, "dy": 3},
          "encoding": {
            "x": {"datum": 0.7, "type": "quantitative", "scale": {"domain": [0.7, 1.2], "nice": false, "zero": false}, "axis": {"orient": "top", "labels": false, "values": [0.7, 0.8, 0.9, 1.0, 1.1, 1.2], "title": null}},
            "y": {"datum": 1.2, "type": "quantitative", "scale": {"domain": [0, 1.2], "nice": false}, "axis": {"orient": "right", "labels": false, "values": [0, 0.2, 0.4, 0.6, 0.8, 1.0, 1.2], "title": null}},
            "text": {"field": "t"}
          }
        }
      ],
      "resolve": {"axis": {"x": "independent", "y": "independent"}}
    },
    {
      "width": 330, "height": 264,
      "layer": [
        {
          "data": {"name": "curves"},
          "transform": [{"filter": "datum.p == 'f'"}],
          "mark": {"type": "line", "strokeWidth": 3, "interpolate": "monotone", "clip": true},
          "encoding": {
            "x": {"field": "x", "type": "quantitative", "scale": {"domain": [0.8, 1.3], "nice": false, "zero": false}, "axis": {"values": [0.8, 0.9, 1.0, 1.1, 1.2, 1.3], "format": ".1f", "title": "ω/J₁", "titleFontSize": 30, "titleFontStyle": "italic", "titlePadding": 4}},
            "y": {"field": "y", "type": "quantitative", "scale": {"domain": [0, 1.2], "nice": false}, "axis": {"values": [0, 0.2, 0.4, 0.6, 0.8, 1.0, 1.2], "labels": false, "title": null}},
            "color": {"field": "s", "type": "nominal", "scale": {"domain": ["D40", "D80", "CUT"], "range": ["#0000ff", "#1f9e1f", "#ff0000"]}, "legend": {"title": null, "orient": "none", "legendX": 0, "legendY": -46, "direction": "horizontal", "labelExpr": "datum.value == 'D40' ? 'DMRG Nₐₜₒₘ = 40' : datum.value == 'D80' ? 'DMRG Nₐₜₒₘ = 80' : 'DBA-CUT'"}},
            "strokeDash": {"field": "s", "type": "nominal", "scale": {"domain": ["D40", "D80", "CUT"], "range": [[1, 0], [3, 2.5], [8, 4]]}, "legend": {"title": null, "orient": "none", "legendX": 0, "legendY": -46, "direction": "horizontal", "labelExpr": "datum.value == 'D40' ? 'DMRG Nₐₜₒₘ = 40' : datum.value == 'D80' ? 'DMRG Nₐₜₒₘ = 80' : 'DBA-CUT'"}}
          }
        },
        {
          "data": {"values": [{"t": "(f) T = 200 K, max"}]},
          "mark": {"type": "text", "align": "left", "baseline": "top", "fontSize": 33, "dx": 1, "dy": 3},
          "encoding": {
            "x": {"datum": 0.8, "type": "quantitative", "scale": {"domain": [0.8, 1.3], "nice": false, "zero": false}, "axis": {"orient": "top", "labels": false, "values": [0.8, 0.9, 1.0, 1.1, 1.2, 1.3], "title": null}},
            "y": {"datum": 1.2, "type": "quantitative", "scale": {"domain": [0, 1.2], "nice": false}, "axis": {"orient": "right", "labels": false, "values": [0, 0.2, 0.4, 0.6, 0.8, 1.0, 1.2], "title": null}},
            "text": {"field": "t"}
          }
        }
      ],
      "resolve": {"axis": {"x": "independent", "y": "independent"}}
    }
  ],
  "config": {
    "font": "Liberation Serif",
    "view": {"stroke": "#111", "strokeWidth": 1.2},
    "text": {"font": "Liberation Serif", "color": "#111"},
    "axis": {
      "grid": false, "domain": false, "ticks": true, "tickSize": -5, "tickColor": "#111", "tickWidth": 1,
      "labelFont": "Liberation Serif", "labelFontSize": 20.5, "labelColor": "#111", "labelPadding": 12,
      "labelFlush": false, "labelOverlap": false, "minExtent": 0,
      "titleFont": "Liberation Serif", "titleFontWeight": "normal", "titleColor": "#111"
    },
    "legend": {
      "strokeColor": "#111", "cornerRadius": 6, "padding": 4, "symbolType": "stroke", "symbolSize": 1300,
      "symbolStrokeWidth": 3, "labelFont": "Liberation Serif", "labelFontSize": 23, "labelColor": "#111",
      "labelLimit": 400, "labelOffset": 3, "columnPadding": 55
    }
  }
}
